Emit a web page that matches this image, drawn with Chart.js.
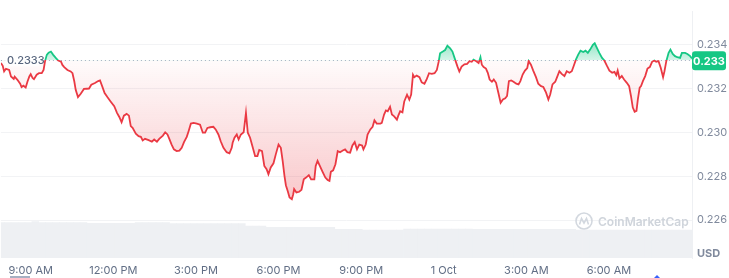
<!DOCTYPE html>
<html>
<head>
<meta charset="utf-8">
<script src="https://cdn.jsdelivr.net/npm/chart.js@4.4.1/dist/chart.umd.min.js"></script>
<style>
  html, body { margin: 0; padding: 0; background: #fff; }
  #wrap { width: 729px; height: 278px; }
</style>
</head>
<body>
<div id="wrap"><canvas id="priceChart" width="729" height="278"></canvas></div>
<script>
// 基准价（开盘价）与最新价
const baseline = 0.2333;
const lastPriceLabel = '0.233';

// 时间：距 07:55 的分钟数
const times = [
  0, 4, 7, 11, 18, 22, 28, 30, 36, 42, 45, 49, 54, 58, 62, 65, 69, 72, 78, 83,
  89, 93, 96, 100, 104, 109, 114, 120, 125, 131, 134, 138, 145, 152, 156, 160, 163, 168, 174, 181,
  187, 192, 197, 205, 212, 216, 221, 226, 232, 239, 247, 253, 258, 263, 268, 274, 279, 283, 287, 294,
  300, 305, 309, 314, 322, 329, 334, 340, 345, 353, 358, 363, 367, 372, 377, 383, 389, 394, 399, 405,
  409, 414, 420, 427, 434, 440, 445, 450, 456, 463, 468, 474, 479, 485, 492, 498, 503, 505, 509, 514,
  518, 523, 529, 534, 538, 543, 549, 554, 559, 563, 569, 574, 579, 583, 588, 594, 599, 605, 610, 614,
  618, 621, 625, 629, 634, 637, 639, 644, 650, 655, 660, 665, 671, 676, 683, 686, 690, 695, 701, 707,
  712, 716, 719, 724, 729, 734, 739, 745, 750, 755, 761, 766, 771, 776, 781, 787, 790, 795, 799, 805,
  810, 814, 819, 827, 830, 835, 839, 843, 848, 852, 857, 863, 866, 870, 875, 879, 885, 890, 894, 898,
  901, 906, 912, 917, 923, 928, 933, 939, 945, 950, 954, 957, 963, 968, 973, 979, 984, 990, 995, 999,
  1004, 1010, 1016, 1021, 1026, 1030, 1036, 1041, 1045, 1048, 1052, 1057, 1061, 1065, 1070, 1074, 1079, 1084, 1089, 1094,
  1099, 1103, 1107, 1112, 1117, 1123, 1128, 1132, 1137, 1142, 1147, 1150, 1155, 1160, 1166, 1171, 1177, 1182, 1188, 1193,
  1197, 1202, 1208, 1212, 1217, 1222, 1228, 1233, 1239, 1244, 1248, 1253, 1258, 1263, 1269, 1274, 1279, 1284, 1290, 1294,
  1299, 1304, 1310, 1315, 1321, 1326, 1332, 1337, 1341, 1344, 1348, 1353, 1358, 1364, 1369, 1373, 1377, 1381, 1385, 1388,
  1392, 1395, 1399, 1404, 1409, 1414, 1419, 1424, 1428, 1433, 1438, 1443, 1446, 1450, 1455, 1459, 1464, 1469, 1474, 1480,
  1484, 1491, 1496, 1502, 1506
];

// 价格 (USD)
const prices = [
  0.23318, 0.23305, 0.23279, 0.23291, 0.23286, 0.23256, 0.23245, 0.23255, 0.23241, 0.23223, 0.23208, 0.23214, 0.23206, 0.23233, 0.23256, 0.23267, 0.23249, 0.23244, 0.23264, 0.23271,
  0.23271, 0.23286, 0.23324, 0.23355, 0.23365, 0.23370, 0.23355, 0.23340, 0.23329, 0.23324, 0.23309, 0.23299, 0.23286, 0.23279, 0.23271, 0.23233, 0.23195, 0.23162, 0.23177, 0.23199,
  0.23200, 0.23201, 0.23218, 0.23226, 0.23235, 0.23238, 0.23210, 0.23180, 0.23162, 0.23142, 0.23120, 0.23090, 0.23071, 0.23047, 0.23077, 0.23085, 0.23077, 0.23029, 0.23021, 0.22995,
  0.22983, 0.22980, 0.22964, 0.22971, 0.22965, 0.22958, 0.22968, 0.22958, 0.22971, 0.22986, 0.23001, 0.22991, 0.22971, 0.22945, 0.22923, 0.22915, 0.22917, 0.22930, 0.22956, 0.22980,
  0.23006, 0.23041, 0.23044, 0.23041, 0.23036, 0.22999, 0.22999, 0.23021, 0.23024, 0.23026, 0.23014, 0.22991, 0.22960, 0.22930, 0.22910, 0.22905, 0.22930, 0.22953, 0.22976, 0.22991,
  0.22968, 0.22991, 0.23001, 0.23090, 0.22999, 0.22976, 0.22930, 0.22892, 0.22892, 0.22920, 0.22915, 0.22847, 0.22832, 0.22809, 0.22840, 0.22859, 0.22900, 0.22945, 0.22930, 0.22870,
  0.22801, 0.22759, 0.22733, 0.22703, 0.22695, 0.22718, 0.22741, 0.22726, 0.22729, 0.22738, 0.22786, 0.22794, 0.22805, 0.22786, 0.22786, 0.22847, 0.22870, 0.22847, 0.22820, 0.22794,
  0.22783, 0.22779, 0.22820, 0.22827, 0.22855, 0.22915, 0.22910, 0.22918, 0.22923, 0.22910, 0.22908, 0.22941, 0.22956, 0.22923, 0.22945, 0.22941, 0.22923, 0.22945, 0.22991, 0.23014,
  0.23026, 0.23056, 0.23041, 0.23041, 0.23044, 0.23082, 0.23101, 0.23097, 0.23117, 0.23082, 0.23074, 0.23059, 0.23077, 0.23097, 0.23092, 0.23142, 0.23173, 0.23150, 0.23173, 0.23264,
  0.23253, 0.23260, 0.23253, 0.23229, 0.23223, 0.23244, 0.23271, 0.23268, 0.23271, 0.23286, 0.23324, 0.23362, 0.23370, 0.23377, 0.23397, 0.23385, 0.23370, 0.23332, 0.23301, 0.23279,
  0.23301, 0.23312, 0.23314, 0.23326, 0.23323, 0.23333, 0.23326, 0.23318, 0.23344, 0.23310, 0.23299, 0.23292, 0.23273, 0.23242, 0.23232, 0.23242, 0.23227, 0.23182, 0.23136, 0.23151,
  0.23156, 0.23167, 0.23235, 0.23238, 0.23232, 0.23223, 0.23220, 0.23235, 0.23265, 0.23283, 0.23295, 0.23326, 0.23310, 0.23283, 0.23253, 0.23223, 0.23212, 0.23208, 0.23182, 0.23151,
  0.23174, 0.23220, 0.23232, 0.23253, 0.23280, 0.23268, 0.23258, 0.23280, 0.23273, 0.23280, 0.23303, 0.23333, 0.23356, 0.23374, 0.23368, 0.23374, 0.23364, 0.23379, 0.23401, 0.23408,
  0.23386, 0.23364, 0.23341, 0.23329, 0.23303, 0.23283, 0.23273, 0.23277, 0.23262, 0.23283, 0.23247, 0.23258, 0.23242, 0.23227, 0.23212, 0.23167, 0.23114, 0.23095, 0.23099, 0.23151,
  0.23205, 0.23212, 0.23235, 0.23258, 0.23292, 0.23299, 0.23323, 0.23329, 0.23323, 0.23326, 0.23295, 0.23253, 0.23280, 0.23326, 0.23364, 0.23379, 0.23359, 0.23349, 0.23344, 0.23341,
  0.23364, 0.23364, 0.23359, 0.23349, 0.23338
];

// 成交量（24h，单位：十万美元，每 15 分钟一根）
const volumeStep = 15;
const volumes = [
  353, 353, 353, 353, 353, 363, 353, 353, 353, 353, 353, 353, 353, 347, 347, 347, 347, 347, 347, 347,
  353, 353, 353, 353, 353, 343, 343, 343, 343, 343, 343, 343, 343, 343, 343, 343, 320, 320, 320, 307,
  307, 307, 307, 307, 307, 307, 307, 307, 307, 287, 287, 287, 287, 280, 280, 280, 280, 280, 280, 290,
  290, 290, 290, 290, 290, 290, 290, 290, 290, 287, 287, 287, 287, 287, 287, 287, 287, 287, 287, 287,
  287, 287, 287, 287, 280, 280, 280, 280, 280, 280, 280, 280, 280, 280, 280, 280, 280, 280, 280, 280,
  280
];

// 坐标轴刻度
const tickMinutes = [65, 245, 425, 605, 785, 965, 1145, 1325];
const tickLabels = ['9:00 AM', '12:00 PM', '3:00 PM', '6:00 PM', '9:00 PM', '1 Oct', '3:00 AM', '6:00 AM'];
const yTicks = [0.226, 0.228, 0.230, 0.232, 0.234];

const green = '#16c784';
const red = '#ea3943';
const fontFamily = 'Inter, "Noto Sans", sans-serif';

// 额外绘制：基准虚线、价格标签、水印等
const extras = {
  id: 'extras',
  beforeDatasetsDraw(chart) {
    const { ctx, chartArea } = chart;
    const y = Math.round(chart.scales.y.getPixelForValue(baseline)) + 0.5;
    ctx.save();
    ctx.strokeStyle = '#a6b0c3';
    ctx.lineWidth = 1;
    ctx.setLineDash([1, 3]);
    ctx.beginPath();
    ctx.moveTo(chartArea.left, y);
    ctx.lineTo(chartArea.right, y);
    ctx.stroke();
    ctx.restore();
  },
  afterDraw(chart) {
    const { ctx, chartArea } = chart;
    const y = chart.scales.y.getPixelForValue(baseline);
    ctx.save();

    // 左侧基准价标签
    ctx.font = '500 11px ' + fontFamily;
    ctx.fillStyle = 'rgba(255,255,255,0.85)';
    ctx.fillRect(5, y - 7, 34, 13);
    ctx.fillStyle = '#58667e';
    ctx.textAlign = 'left';
    ctx.textBaseline = 'middle';
    ctx.fillText(baseline.toFixed(4), 7, y);

    // 右侧最新价标签
    const bx = chartArea.right, by = y - 9;
    ctx.fillStyle = green;
    ctx.beginPath();
    ctx.roundRect(bx, by, 34, 19, 3);
    ctx.fill();
    ctx.fillStyle = '#fff';
    ctx.font = 'bold 11px ' + fontFamily;
    ctx.textAlign = 'center';
    ctx.fillText(lastPriceLabel, bx + 17, by + 10);

    // USD
    ctx.fillStyle = '#808a9d';
    ctx.font = 'bold 11px ' + fontFamily;
    ctx.textAlign = 'left';
    ctx.fillText('USD', 697, 254);

    // 水印
    const wx = 584, wy = 221;
    ctx.strokeStyle = '#d3d8df';
    ctx.lineWidth = 1.6;
    ctx.beginPath();
    ctx.arc(wx, wy, 8, 0, Math.PI * 2);
    ctx.stroke();
    ctx.beginPath();
    ctx.moveTo(wx - 4.5, wy + 3.5);
    ctx.lineTo(wx - 2.5, wy - 2.5);
    ctx.lineTo(wx, wy + 2);
    ctx.lineTo(wx + 2.5, wy - 2.5);
    ctx.lineTo(wx + 4.5, wy + 3.5);
    ctx.stroke();
    ctx.fillStyle = '#cfd4db';
    ctx.font = '600 12px ' + fontFamily;
    ctx.textAlign = 'left';
    ctx.fillText('CoinMarketCap', 598, wy + 1);

    // 底部小标记
    ctx.fillStyle = '#a6b0c3';
    ctx.fillRect(10, 276, 20, 2);
    ctx.fillStyle = '#3861fb';
    ctx.beginPath();
    ctx.moveTo(654, 278);
    ctx.lineTo(657, 275);
    ctx.lineTo(660, 278);
    ctx.fill();

    ctx.restore();
  }
};

const ctx = document.getElementById('priceChart');
const chart = new Chart(ctx, {
  type: 'line',
  data: {
    datasets: [
      {
        type: 'line',
        data: times.map((t, i) => ({ x: t, y: prices[i] })),
        yAxisID: 'y',
        borderColor: red,
        borderWidth: 1.8,
        pointRadius: 0,
        tension: 0,
        order: 1,
        fill: { target: { value: baseline }, above: 'rgba(22,199,132,0.3)', below: 'rgba(234,57,67,0.1)' }
      },
      {
        type: 'bar',
        data: volumes.map((v, i) => ({ x: i * volumeStep, y: v })),
        yAxisID: 'vol',
        backgroundColor: '#eef0f3',
        barPercentage: 1,
        categoryPercentage: 1,
        order: 2
      }
    ]
  },
  options: {
    responsive: false,
    animation: false,
    layout: { padding: { top: 0, left: 0, right: 0, bottom: 0 } },
    plugins: {
      legend: { display: false },
      tooltip: { enabled: false }
    },
    scales: {
      x: {
        type: 'linear',
        min: 0,
        max: 1506,
        offset: false,
        grid: { display: false, drawTicks: false },
        border: { display: false },
        afterBuildTicks: s => { s.ticks = tickMinutes.map(v => ({ value: v })); },
        afterFit: s => { s.height = 20; },
        ticks: {
          callback: v => tickLabels[tickMinutes.indexOf(v)],
          color: '#616e85',
          font: { size: 11, family: fontFamily },
          padding: 6,
          maxRotation: 0,
          autoSkip: false
        }
      },
      y: {
        position: 'right',
        min: 0.224263,
        max: 0.23592,
        afterBuildTicks: s => { s.ticks = yTicks.map(v => ({ value: v })); },
        afterFit: s => { s.width = 37; },
        ticks: {
          callback: v => v.toFixed(3),
          color: '#808a9d',
          font: { size: 11, family: fontFamily },
          padding: 5
        },
        grid: { color: '#f2f3f5', drawTicks: false },
        border: { display: true, color: '#eef0f3' }
      },
      vol: { display: false, min: 0, max: 2550 }
    }
  },
  plugins: [extras]
});

// 按实际绘图区校准价格轴：0.234 在 y=45，0.226 在 y=220
function calibrateAxis() {
  const area = chart.chartArea;
  const pxPerUnit = (220 - 45) / (0.234 - 0.226);
  chart.options.scales.y.max = 0.234 + (45 - area.top) / pxPerUnit;
  chart.options.scales.y.min = 0.226 - (area.bottom - 220) / pxPerUnit;
  chart.options.scales.vol.max = 353 * (area.bottom - area.top) / 35.3;
  chart.update('none');
}

// 渐变：线条按基准价上下分色，填充为上绿下红
function applyGradients() {
  const area = chart.chartArea;
  const ys = chart.scales.y;
  const c = chart.ctx;
  const baseY = ys.getPixelForValue(baseline);
  const t = (baseY - area.top) / (area.bottom - area.top);

  const stroke = c.createLinearGradient(0, area.top, 0, area.bottom);
  stroke.addColorStop(0, green);
  stroke.addColorStop(t, green);
  stroke.addColorStop(t, red);
  stroke.addColorStop(1, red);

  const up = c.createLinearGradient(0, ys.getPixelForValue(0.2341), 0, baseY);
  up.addColorStop(0, 'rgba(22,199,132,0.45)');
  up.addColorStop(1, 'rgba(22,199,132,0.18)');

  const down = c.createLinearGradient(0, baseY, 0, ys.getPixelForValue(0.2269));
  down.addColorStop(0, 'rgba(234,57,67,0.02)');
  down.addColorStop(1, 'rgba(234,57,67,0.28)');

  const ds = chart.data.datasets[0];
  ds.borderColor = stroke;
  ds.fill = { target: { value: baseline }, above: up, below: down };
  chart.update('none');
}
calibrateAxis();
applyGradients();
</script>
</body>
</html>
